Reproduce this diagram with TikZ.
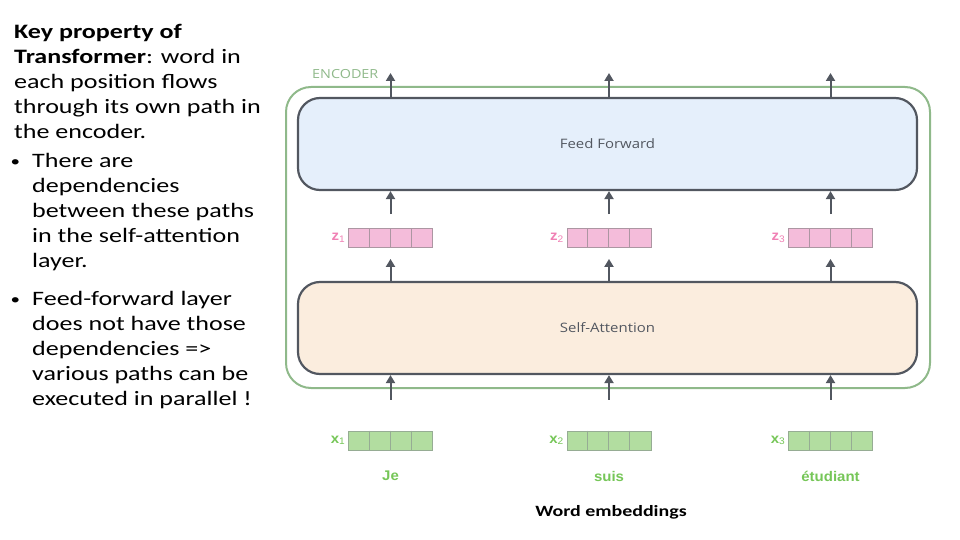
\documentclass[tikz,border=0pt]{standalone}
\usepackage{fontspec}
\setmainfont{Carlito}[FakeStretch=1.27]
\newfontfamily\diagfont{Open Sans}[FakeStretch=1.15]
\newfontfamily\wordfont{Liberation Sans}[FakeStretch=1.07]
\usepackage{tikz}
\usetikzlibrary{positioning, arrows.meta, calc}

\definecolor{EdgeGray}{RGB}{82,87,96}
\definecolor{EncGreen}{RGB}{143,185,138}
\definecolor{FFFill}{RGB}{229,239,251}
\definecolor{SAFill}{RGB}{251,237,222}
\definecolor{ZFill}{RGB}{244,188,218}
\definecolor{ZEdge}{RGB}{172,150,162}
\definecolor{ZText}{RGB}{240,128,180}
\definecolor{XFill}{RGB}{178,221,160}
\definecolor{XEdge}{RGB}{150,172,148}
\definecolor{XText}{RGB}{118,198,88}

\newcommand{\veclabel}[2]{{\bfseries #1}\raisebox{-1.5pt}{\fontsize{9.5}{10}\selectfont #2}}
\newcommand{\dotmark}{\llap{\raisebox{1pt}{\fontsize{15}{15}\selectfont\textbullet}\hspace{12pt}}}

\tikzstyle{arrow} = [line width=2pt, EdgeGray, -{Triangle[width=9pt,length=8pt]}]
\tikzstyle{layer} = [draw=EdgeGray, line width=2.2pt, rounded corners=22pt, minimum width=619pt, minimum height=92pt, text=EdgeGray, font=\diagfont\fontsize{13}{15}\selectfont]
\tikzstyle{frame} = [draw=EncGreen, line width=2pt, rounded corners=25pt, minimum width=644pt, minimum height=301pt]
\tikzstyle{vec} = [line width=0.9pt, minimum width=84pt, minimum height=19pt, inner sep=0pt]
\tikzstyle{para} = [anchor=north west, align=left, inner sep=0pt, font=\fontsize{20.5}{25}\selectfont]

\begin{document}
\begin{tikzpicture}[x=1pt,y=-1pt]
  \useasboundingbox (0,0) rectangle (960,540);

  % Left text
  \node[para] (intro) at (14,24.5) {\textbf{Key property of}\\\textbf{Transformer}: word in\\each position flows\\through its own path in\\the encoder.};
  \node[para] (bullet1) at (32,153) {\dotmark There are\\dependencies\\between these paths\\in the self-attention\\layer.};
  \node[para] (bullet2) at (32,291.5) {\dotmark Feed-forward layer\\does not have those\\dependencies =>\\various paths can be\\executed in parallel !};

  % Encoder
  \node[frame] (encoder) at (608,237.5) {};
  \node[anchor=base west, text=EncGreen, inner sep=0pt, font=\diagfont\fontsize{12.5}{14}\selectfont] (enclabel) at (312,79) {ENCODER};

  % Layers
  \node[layer, fill=FFFill] (ffn) at (607.5,144) {Feed Forward};
  \node[layer, fill=SAFill] (attn) at (607.5,328) {Self-Attention};

  % Positions
  \foreach \i/\cx/\word in {1/390.5/Je, 2/609/suis, 3/830.5/étudiant} {
    \node[vec, draw=ZEdge, fill=ZFill] (z\i) at (\cx,238) {};
    \node[vec, draw=XEdge, fill=XFill] (x\i) at (\cx,440.5) {};
    \foreach \k in {1,2,3} {
      \draw[ZEdge, line width=0.9pt] ($(z\i.north west)+(21*\k,0)$) -- ($(z\i.south west)+(21*\k,0)$);
      \draw[XEdge, line width=0.9pt] ($(x\i.north west)+(21*\k,0)$) -- ($(x\i.south west)+(21*\k,0)$);
    }
    \node[left=3pt of z\i, inner sep=0pt, text=ZText, font=\wordfont\fontsize{14}{16}\selectfont] (zl\i) {\veclabel{z}{\i}};
    \node[left=3pt of x\i, inner sep=0pt, text=XText, font=\wordfont\fontsize{14}{16}\selectfont] (xl\i) {\veclabel{x}{\i}};
    \node[text=XText, font=\wordfont\bfseries\fontsize{14}{16}\selectfont] (w\i) at (\cx,476) {\word};

    \coordinate (out\i) at (\cx,73);
    \draw[arrow] (ffn.north -| z\i) -- (out\i);
    \draw[arrow, shorten <=14pt] (z\i.north) -- (ffn.south -| z\i);
    \draw[arrow, shorten >=11pt] (attn.north -| z\i) -- (z\i.south);
    \draw[arrow, shorten <=31pt] (x\i.north) -- (attn.south -| x\i);
  }

  \node[font=\bfseries\fontsize{15.7}{19}\selectfont] (emb) at (611,512) {Word embeddings};
\end{tikzpicture}
\end{document}
